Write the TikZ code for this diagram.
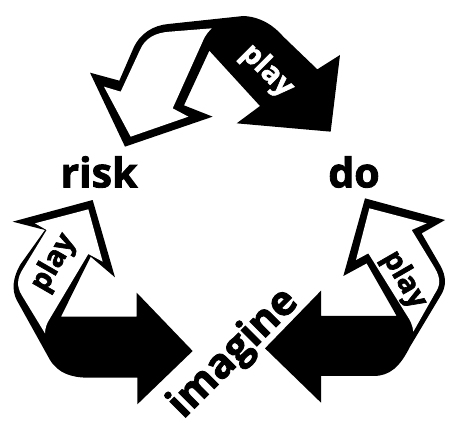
\documentclass[tikz,border=0pt]{standalone}
\usepackage{fontspec}
\setmainfont{Open Sans}[BoldFeatures={FakeBold=2.2}]
\tikzset{
  outer/.style={fill=black,draw=none},
  inner/.style={fill=white,draw=none},
  word/.style={font=\bfseries\fontsize{41}{41}\selectfont,text=black,inner sep=0pt},
  playword/.style={font=\bfseries\fontsize{29}{29}\selectfont,inner sep=0pt},
  zoomed/.style={x=0.33333pt,y=-0.33333pt}
}
\begin{document}
\begin{tikzpicture}[x=1pt,y=-1pt]
\useasboundingbox (0,0) rectangle (453,428);
% top arrow
\begin{scope}[shift={(90pt,0pt)},zoomed]
\fill[outer] (460,48) .. controls (510,50) and (550,75) .. (580,110) -- (682,208) -- (750,165) -- (722,395) -- (440,370) -- (510,318) -- (358,152) -- (282,316) -- (368,350) -- (105,440) -- (0,218) -- (88,242) -- (130,145) .. controls (150,100) and (190,76) .. (235,72) -- cycle;
\fill[inner] (365,85) -- (240,95) .. controls (195,98) and (165,115) .. (150,150) -- (92,275) -- (42,260) -- (122,410) -- (295,350) -- (248,325) -- (340,120) .. controls (346,106) and (355,95) .. (365,85) -- cycle;
\end{scope}
% left arrow
\begin{scope}[shift={(0pt,-190pt)},zoomed]
\fill[outer] (38,95) -- (278,30) -- (345,262) -- (272,200) -- (183,380) -- (410,380) -- (410,308) -- (578,483) -- (412,643) -- (412,563) -- (265,563) .. controls (215,563) and (175,550) .. (150,510) -- (50,330) .. controls (35,300) and (38,265) .. (60,225) -- (135,120) -- cycle;
\fill[inner] (105,100) -- (265,58) -- (308,215) -- (265,192) -- (150,385) .. controls (140,400) and (135,415) .. (135,430) -- (65,315) .. controls (50,290) and (50,265) .. (70,235) -- (140,120) -- cycle;
\end{scope}
% right arrow
\begin{scope}[shift={(250pt,-190pt)},zoomed]
\fill[outer] (345,25) -- (585,90) -- (515,130) -- (570,225) .. controls (590,260) and (590,290) .. (570,320) -- (480,470) .. controls (450,530) and (420,558) .. (370,558) -- (213,558) -- (213,638) -- (45,475) -- (213,302) -- (213,378) -- (440,378) -- (350,220) -- (280,258) -- cycle;
\fill[inner] (358,55) -- (530,100) -- (485,120) -- (555,235) .. controls (572,265) and (572,285) .. (555,310) -- (490,425) .. controls (488,405) and (480,390) .. (470,375) -- (355,190) -- (318,210) -- cycle;
\end{scope}
\node[word] (risk) at (99,172) {risk};
\node[word] (do) at (354,172) {do};
\node[word,rotate=45] (imagine) at (234,354) {imagine};
\node[playword,text=white,rotate=-45] (playtop) at (267,71) {play};
\node[playword,text=black,rotate=60] (playleft) at (54,263) {play};
\node[playword,text=black,rotate=-60] (playright) at (404,280) {play};
\end{tikzpicture}
\end{document}
